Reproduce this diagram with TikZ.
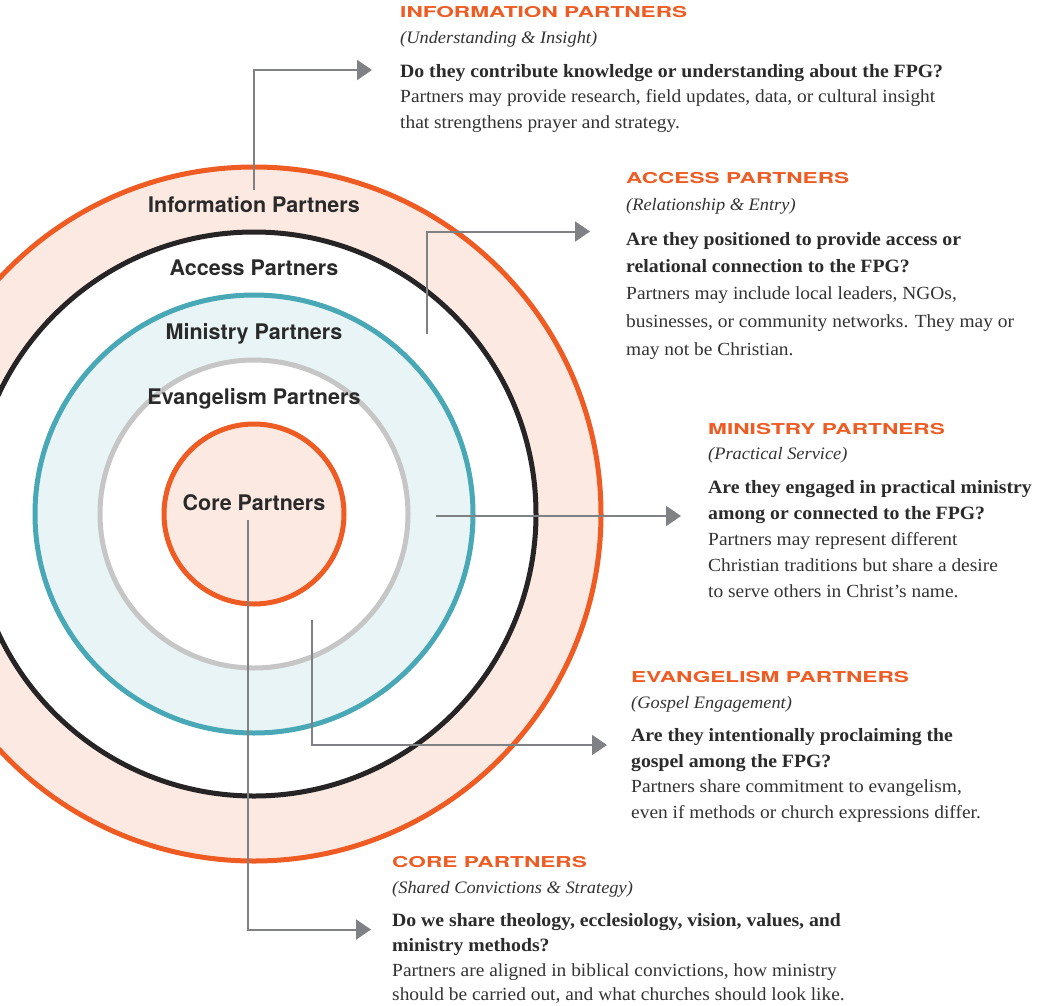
\documentclass[tikz,border=0pt]{standalone}
\usepackage{fontspec}
\setmainfont[FakeStretch=1.05]{Liberation Serif}
\newfontfamily\ringfont{TeX Gyre Heros}
\newfontfamily\headfont[FakeStretch=1.51]{TeX Gyre Heros}
\usetikzlibrary{arrows.meta}
\definecolor{corange}{HTML}{EE5B23}
\definecolor{peach}{HTML}{FCEAE2}
\definecolor{cteal}{HTML}{49A8B6}
\definecolor{lteal}{HTML}{E8F4F6}
\definecolor{cgray}{HTML}{C6C6C6}
\definecolor{cblack}{HTML}{262425}
\definecolor{conngray}{HTML}{808184}
\definecolor{ringtext}{HTML}{2A2A2A}
\definecolor{questext}{HTML}{2B2B2B}
\definecolor{bodytext}{HTML}{333333}
\begin{document}
\begin{tikzpicture}[x=1pt,y=-1pt,
  ring/.style={font=\ringfont\bfseries\fontsize{21.5}{24}\selectfont, text=ringtext, inner sep=0pt, anchor=base},
  head/.style={font=\headfont\bfseries\fontsize{15}{18}\selectfont, text=corange, inner sep=0pt, anchor=base west},
  subt/.style={font=\itshape\fontsize{17.5}{20}\selectfont, text=bodytext, inner sep=0pt, anchor=base west},
  ques/.style={font=\bfseries\fontsize{18.8}{22}\selectfont, text=questext, inner sep=0pt, anchor=base west},
  bodyt/.style={font=\fontsize{18.5}{22}\selectfont, text=bodytext, inner sep=0pt, anchor=base west},
  conn/.style={draw=conngray, line width=2pt, -{Triangle[length=15pt,width=20pt]}},
  ringline/.style={line width=5pt}
]
\useasboundingbox (0,0) rectangle (1037,1005);
\clip (0,0) rectangle (1037,1005);
\fill[white] (0,0) rectangle (1037,1005);

% circles
\coordinate (c) at (254,514);
\draw[ringline, draw=corange, fill=peach] (c) circle[radius=347];
\draw[ringline, draw=cblack, fill=white] (c) circle[radius=282];
\draw[ringline, draw=cteal, fill=lteal] (c) circle[radius=219];
\draw[ringline, draw=cgray, fill=white] (c) circle[radius=154];
\draw[ringline, draw=corange, fill=peach] (c) circle[radius=90];

% ring labels
\node[ring] (l-info) at (254,212) {Information Partners};
\node[ring] (l-acc) at (254,275) {Access Partners};
\node[ring] (l-min) at (254,339) {Ministry Partners};
\node[ring] (l-eva) at (254,404) {Evangelism Partners};
\node[ring] (l-core) at (254,510) {Core Partners};

% connectors
\coordinate (info-s) at (254,190);
\coordinate (info-t) at (372,70);
\draw[conn] (info-s) |- (info-t);
\coordinate (acc-s) at (427,334);
\coordinate (acc-t) at (590,231.5);
\draw[conn] (acc-s) |- (acc-t);
\coordinate (min-s) at (436,516);
\coordinate (min-t) at (681,516);
\draw[conn] (min-s) -- (min-t);
\coordinate (eva-s) at (312,620);
\coordinate (eva-t) at (607,745);
\draw[conn] (eva-s) |- (eva-t);
\coordinate (core-s) at (248,520);
\coordinate (core-t) at (371,929.5);
\draw[conn] (core-s) |- (core-t);

% Information block
\node[head] (i-h) at (400,17) {INFORMATION PARTNERS};
\node[subt] (i-s) at (400,43) {(Understanding \& Insight)};
\node[ques] (i-q1) at (400,77) {Do they contribute knowledge or understanding about the FPG?};
\node[bodyt] (i-b1) at (400,102) {Partners may provide research, field updates, data, or cultural insight};
\node[bodyt] (i-b2) at (400,128) {that strengthens prayer and strategy.};

% Access block
\node[head] (a-h) at (626,183) {ACCESS PARTNERS};
\node[subt] (a-s) at (626,210) {(Relationship \& Entry)};
\node[ques] (a-q1) at (626,245) {Are they positioned to provide access or};
\node[ques] (a-q2) at (626,272) {relational connection to the FPG?};
\node[bodyt] (a-b1) at (626,299) {Partners may include local leaders, NGOs,};
\node[bodyt] (a-b2) at (626,327) {businesses, or community networks. They may or};
\node[bodyt] (a-b3) at (626,355) {may not be Christian.};

% Ministry block
\node[head] (m-h) at (708,434) {MINISTRY PARTNERS};
\node[subt] (m-s) at (708,459) {(Practical Service)};
\node[ques] (m-q1) at (708,493) {Are they engaged in practical ministry};
\node[ques] (m-q2) at (708,519) {among or connected to the FPG?};
\node[bodyt] (m-b1) at (708,545) {Partners may represent different};
\node[bodyt] (m-b2) at (708,571) {Christian traditions but share a desire};
\node[bodyt] (m-b3) at (708,597) {to serve others in Christ’s name.};

% Evangelism block
\node[head] (e-h) at (631,682) {EVANGELISM PARTNERS};
\node[subt] (e-s) at (631,708) {(Gospel Engagement)};
\node[ques] (e-q1) at (631,741) {Are they intentionally proclaiming the};
\node[ques] (e-q2) at (631,767) {gospel among the FPG?};
\node[bodyt] (e-b1) at (631,792) {Partners share commitment to evangelism,};
\node[bodyt] (e-b2) at (631,818) {even if methods or church expressions differ.};

% Core block
\node[head] (k-h) at (392,867) {CORE PARTNERS};
\node[subt] (k-s) at (392,893) {(Shared Convictions \& Strategy)};
\node[ques] (k-q1) at (392,926) {Do we share theology, ecclesiology, vision, values, and};
\node[ques] (k-q2) at (392,951) {ministry methods?};
\node[bodyt] (k-b1) at (392,976) {Partners are aligned in biblical convictions, how ministry};
\node[bodyt] (k-b2) at (392,1000) {should be carried out, and what churches should look like.};
\end{tikzpicture}
\end{document}
